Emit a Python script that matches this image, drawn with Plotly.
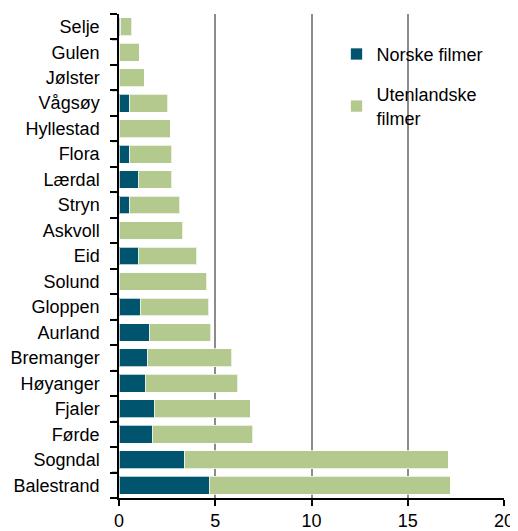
import plotly.graph_objects as go

municipalities = ["Selje", "Gulen", "Jølster", "Vågsøy", "Hyllestad", "Flora", "Lærdal",
                  "Stryn", "Askvoll", "Eid", "Solund", "Gloppen", "Aurland", "Bremanger",
                  "Høyanger", "Fjaler", "Førde", "Sogndal", "Balestrand"]
norske = [0.09, 0.0, 0.0, 0.57, 0.0, 0.57, 0.99, 0.57, 0.0, 0.99, 0.0, 1.11, 1.61, 1.50,
          1.37, 1.83, 1.73, 3.41, 4.69]
totals = [0.66, 1.05, 1.30, 2.54, 2.66, 2.73, 2.75, 3.15, 3.30, 4.03, 4.57, 4.65, 4.77, 5.85,
          6.18, 6.81, 6.94, 17.11, 17.21]
utenlandske = [round(t - n, 2) for t, n in zip(totals, norske)]
x_ticks = [0, 5, 10, 15, 20]

positions = list(range(len(municipalities)))
boundaries = [p - 0.5 for p in positions] + [positions[-1] + 0.5]
y_range = [len(municipalities) - 0.5, -0.5]
font_family = "Arial, Liberation Sans, sans-serif"

plot_width_px = 385
tick_len_px = 7

fig = go.Figure()
fig.add_trace(go.Bar(
    y=positions, x=norske, orientation="h", name="Norske filmer", legendgroup="a",
    marker=dict(color="#00546E", line=dict(color="rgba(255,255,255,0.7)", width=1)),
))
fig.add_trace(go.Bar(
    y=positions, x=utenlandske, orientation="h", name="Utenlandske<br>filmer", legendgroup="b",
    marker=dict(color="#B3C98D", line=dict(color="rgba(255,255,255,0.7)", width=1)),
))

# category-boundary tick marks on the y axis
for b in boundaries:
    fig.add_shape(type="line", xref="paper", yref="y",
                  x0=-tick_len_px / plot_width_px, x1=0, y0=b, y1=b,
                  line=dict(color="#000000", width=1.5), layer="above")

# page body has an 8px margin, so figure is 8px smaller and margins compensated
fig.update_layout(
    barmode="stack",
    bargap=0.3,
    width=510, height=523,
    margin=dict(l=111, r=14, t=6, b=33),
    paper_bgcolor="white", plot_bgcolor="white",
    font=dict(family=font_family, size=18, color="#000000"),
    legend=dict(x=0.565, y=0.955, xanchor="left", yanchor="top", traceorder="grouped",
                font=dict(size=18), bgcolor="rgba(0,0,0,0)",
                itemwidth=30, tracegroupgap=14),
    xaxis=dict(range=[0, 20], tickvals=x_ticks, showgrid=True, gridcolor="#8c8c8c",
               gridwidth=1.5, showline=True, linecolor="#000000", linewidth=1.5,
               ticks="outside", ticklen=6, tickwidth=1.5, tickcolor="#000000",
               tickfont=dict(size=18), zeroline=False, automargin=False),
    yaxis=dict(range=y_range, showline=True, linecolor="#000000", linewidth=1.5,
               tickvals=positions, ticktext=municipalities, ticks="",
               minor=dict(tickmode="array", tickvals=boundaries, ticks="outside",
                          ticklen=tick_len_px, tickwidth=1.5, tickcolor="#000000",
                          showgrid=False),
               showgrid=False, zeroline=False, tickfont=dict(size=18),
               ticklabelstandoff=14, automargin=False),
)

fig.write_html("out.html")
